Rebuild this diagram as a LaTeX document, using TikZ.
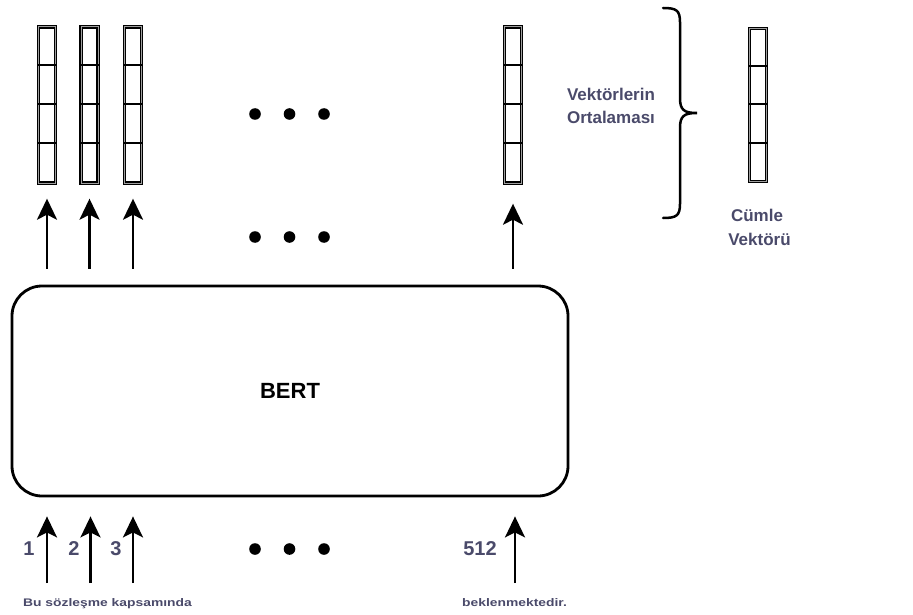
\documentclass[tikz,border=0pt]{standalone}
\usepackage{fontspec}
\setmainfont{Liberation Sans}
\usepackage{graphicx}
\usetikzlibrary{arrows.meta}
\definecolor{txt}{HTML}{4A4A6A}
\tikzset{
  vecbox/.style={draw=black, double=gray!75, double distance=1pt, line width=1.4pt,
    minimum width=17pt, minimum height=156pt, inner sep=0pt},
  divider/.style={line width=2pt, black},
  arr/.style={line width=2.4pt, -{Stealth[length=21pt, width=20pt, inset=5pt]}},
  lbl/.style={text=txt, font=\fontsize{17}{20}\selectfont\bfseries, anchor=base, inner sep=0pt},
  num/.style={text=txt, font=\fontsize{20}{24}\selectfont\bfseries, anchor=base, inner sep=0pt},
  small/.style={text=txt, font=\fontsize{11}{13}\selectfont\bfseries, anchor=base, inner sep=0pt},
  dot/.style={fill=black},
}
\begin{document}
\begin{tikzpicture}[x=1pt, y=-1pt]
\useasboundingbox (0,0) rectangle (913,615);
% token vectors
\node[vecbox] (v1) at (47,105) {};
\node[vecbox] (v2) at (89.5,105) {};
\node[vecbox] (v3) at (133,105) {};
\node[vecbox] (v5) at (513,105) {};
\node[vecbox, minimum height=153pt] (sv) at (758,105) {};
\foreach \n in {v1,v2,v3,v5}{\foreach \k in {1,2,3}{
  \draw[divider] ([yshift=-\k*39pt]\n.north west) -- ([yshift=-\k*39pt]\n.north east);}}
\foreach \k in {1,2,3}{\draw[divider] ([yshift=-\k*38.25pt]sv.north west) -- ([yshift=-\k*38.25pt]sv.north east);}
% BERT
\node[draw, line width=2.8pt, rounded corners=30pt, minimum width=556pt, minimum height=210pt,
  font=\fontsize{22}{26}\selectfont\bfseries] (bert) at (290,391) {BERT};
% arrows BERT -> vectors
\draw[arr, shorten <=16pt, shorten >=15pt] (bert.north -| v1) -- (v1.south);
\draw[arr, shorten <=16pt, shorten >=15pt] (bert.north -| v2) -- (v2.south);
\draw[arr, shorten <=16pt, shorten >=15pt] (bert.north -| v3) -- (v3.south);
\draw[arr, shorten <=16pt, shorten >=20pt] (bert.north -| v5) -- (v5.south);
% input arrows
\coordinate (in1) at (47,583);
\coordinate (in2) at (90.5,583);
\coordinate (in3) at (133,583);
\coordinate (in5) at (515,583);
\draw[arr, shorten >=19pt] (in1) -- (in1 |- bert.south);
\draw[arr, shorten >=19pt] (in2) -- (in2 |- bert.south);
\draw[arr, shorten >=19pt] (in3) -- (in3 |- bert.south);
\draw[arr, shorten >=19pt] (in5) -- (in5 |- bert.south);
% dots
\foreach \y in {114,237,549}{\foreach \x in {255,289.5,324}{\fill[dot] (\x,\y) circle (5.8pt);}}
% brace
\draw[line width=2.5pt, line cap=round] (663,8) .. controls (676,8) and (680,10) .. (680,22) -- (680,98)
  .. controls (680,110) and (684,113) .. (697,113)
  .. controls (684,113) and (680,116) .. (680,128) -- (680,204)
  .. controls (680,216) and (676,218) .. (663,218);
% labels
\node[lbl] (avgA) at (611,101) {Vektörlerin};
\node[lbl] (avgB) at (611,124) {Ortalaması};
\node[lbl] (cvA) at (757,221) {Cümle};
\node[lbl] (cvB) at (759.5,245) {Vektörü};
\node[num] (n1) at (29,555) {1};
\node[num] (n2) at (74,555) {2};
\node[num] (n3) at (116,555) {3};
\node[num] (n512) at (480,555) {512};
\node[small] (s1) at (107.5,606) {\scalebox{1.26}[1]{Bu sözleşme kapsamında}};
\node[small] (s2) at (514.5,606) {\scalebox{1.26}[1]{beklenmektedir.}};
\end{tikzpicture}
\end{document}
